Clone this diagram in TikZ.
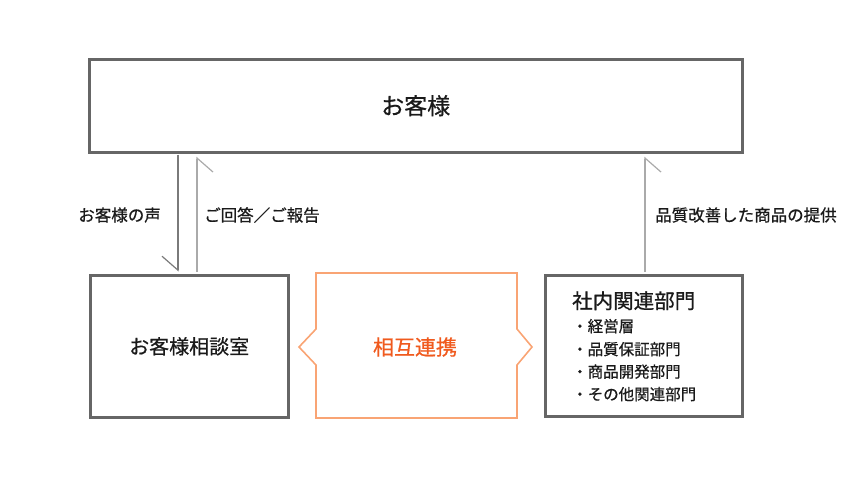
\documentclass[tikz,border=0pt]{standalone}
\usepackage{fontspec}
\setmainfont{Noto Sans CJK JP}[FakeBold=0.7]
\usetikzlibrary{arrows.meta}
\definecolor{framegray}{HTML}{666666}
\definecolor{askgray}{HTML}{7A7A7A}
\definecolor{replygray}{HTML}{AAAAAA}
\definecolor{linkline}{HTML}{F9A474}
\definecolor{linktext}{HTML}{F05A1E}
\definecolor{inktext}{HTML}{1A1A1A}
\begin{document}
\begin{tikzpicture}[x=1pt,y=-1pt,
    box/.style={draw=framegray,line width=3pt,inner sep=0pt,text=inktext},
    label/.style={inner sep=0pt,text=inktext,font=\fontsize{16.5}{16.5}\selectfont},
    listitem/.style={anchor=base west,inner sep=0pt,text=inktext,font=\fontsize{15.5}{15.5}\selectfont},
    askline/.style={draw=askgray,line width=1.2pt,-{Straight Barb[right,length=14pt,width=32pt]}},
    replyline/.style={draw=replygray,line width=1.2pt,-{Straight Barb[right,length=14pt,width=32pt]}}]
  \useasboundingbox (0,0) rectangle (850,480);
  \node[box,minimum width=653pt,minimum height=93pt,font=\fontsize{23}{23}\selectfont]
    (guest) at (415.7,105.7) {お客様};
  \node[box,minimum width=198pt,minimum height=142.5pt,font=\fontsize{20}{20}\selectfont]
    (desk) at (189.2,346.3) {お客様相談室};
  \node[box,minimum width=197.3pt,minimum height=141pt] (dept) at (643.7,346.2) {};
  % dept contents
  \node[anchor=base west,inner sep=0pt,text=inktext,font=\fontsize{20.5}{20.5}\selectfont]
    (depttitle) at (572,308.5) {社内関連部門};
  \node[listitem] (item1) at (572,332) {・経営層};
  \node[listitem] (item2) at (572,355) {・品質保証部門};
  \node[listitem] (item3) at (572,377.5) {・商品開発部門};
  \node[listitem] (item4) at (572,400) {・その他関連部門};
  % mutual link
  \draw[linkline,line width=1.6pt,line join=miter]
    (316,273) -- (517,273) -- (517,329) -- (532,347) -- (517,365)
    -- (517,418) -- (316,418) -- (316,365) -- (299,347) -- (316,329) -- cycle;
  \node[inner sep=0pt,text=linktext,font=\fontsize{21}{21}\selectfont]
    (link) at (415,347) {相互連携};
  % flows
  \draw[askline,shorten <=1pt,shorten >=2pt]
    ([xshift=-11.2pt]desk.north |- guest.south) -- ([xshift=-11.2pt]desk.north);
  \draw[replyline,shorten <=2pt,shorten >=3pt]
    ([xshift=7.8pt]desk.north) -- ([xshift=7.8pt]desk.north |- guest.south);
  \draw[replyline,shorten <=2pt,shorten >=3pt]
    ([xshift=1.3pt]dept.north) -- ([xshift=1.3pt]dept.north |- guest.south);
  \node[label,anchor=east] (voice) at (161,215) {お客様の声};
  \node[label,anchor=west] (reply) at (204,215) {ご回答／ご報告};
  \node[label,anchor=west] (supply) at (655,215) {品質改善した商品の提供};
\end{tikzpicture}
\end{document}
